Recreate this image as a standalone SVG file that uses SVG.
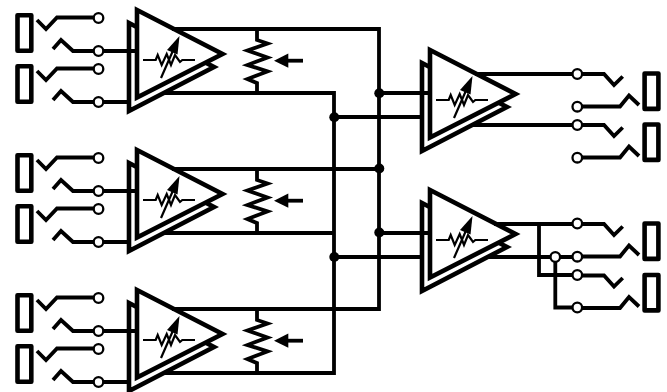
<svg xmlns="http://www.w3.org/2000/svg" width="667" height="392" viewBox="0 0 667 392">
<style>
.l{fill:none;stroke:#000;stroke-width:3.8;stroke-linejoin:miter}
.t{fill:#fff;stroke:#000;stroke-width:4.6;stroke-miterlimit:10}
.j{fill:#fff;stroke:#000;stroke-width:4.6;stroke-linejoin:round}
.z{fill:none;stroke:#000;stroke-width:2.2}
.h{fill:#fff;stroke:#000;stroke-width:2.3}
.d{fill:#000}
</style>
<defs>
<g id="amp">
<path class="t" d="M129 23L214 67L129 111Z"/>
<path class="t" d="M137 10L222.500 54L137 97.500Z"/>
<path class="z" d="M143 60H155.700L157.700 55L161.700 65L166.700 54L171 65L175 55L180 62L182.300 60H195M161 78L175 46"/>
<path class="d" d="M179.500 36L167 50L177.500 54.500Z"/>
</g>
<g id="jackL">
<rect class="j" x="17.500" y="15.300" width="13.800" height="35.400"/>
<path class="l" d="M37 20L46 29L57 17.500H93M53 49L61 40L73 51H94"/>
<circle class="h" cx="98.500" cy="18" r="4.800"/>
<circle class="h" cx="98.500" cy="51" r="4.800"/>
</g>
<g id="pot">
<path class="l" d="M257 29V40L267.500 43.500L247.500 50.500L267.500 57.500L247.500 65L267.500 71.500L247.500 79L257 83V93"/>
<path class="l" d="M303 60.700H284"/>
<path class="d" d="M274 60.700L288.300 53.500V67.700Z"/>
</g>
<g id="jackR">
<rect class="j" x="644.600" y="0" width="13.800" height="35.400"/>
<path class="l" d="M582 0.500H604L614 11.500L622.700 3M582 33H620L629 22L639 31.500"/>
</g>
</defs>
<g id="amp-in-1"><use href="#amp"/><use href="#jackL"/><use href="#jackL" y="51"/></g>
<g id="amp-in-2"><use href="#amp" y="140"/><use href="#jackL" y="140"/><use href="#jackL" y="191"/></g>
<g id="amp-in-3"><use href="#amp" y="280"/><use href="#jackL" y="280"/><use href="#jackL" y="331"/></g>
<g id="pot-1"><use href="#pot"/></g>
<g id="pot-2"><use href="#pot" y="140"/></g>
<g id="pot-3"><use href="#pot" y="280"/></g>
<g id="amp-out-1"><use href="#amp" x="293" y="40"/><use href="#jackR" y="73.500"/><use href="#jackR" y="124.500"/></g>
<g id="amp-out-2"><use href="#amp" x="293" y="180"/><use href="#jackR" y="223.500"/><use href="#jackR" y="275"/></g>
<g id="connectors">
<path class="l" d="M103 51H137M103 102H129M103 191H137M103 242H129M103 331H137M103 382H129"/>
<path class="l" d="M172 29H379V309H172M163 93H334V373H163M172 169H379M163 233H334"/>
<path class="l" d="M379 93H430M334 117H422M379 233H430M334 257H422"/>
<path class="l" d="M475 74H573M471 125H573M494 224H573M487 257H551M539 224V275H573M555.300 262V307.500H573M560 257H573"/>
<circle class="d" cx="379.300" cy="93.300" r="5"/>
<circle class="d" cx="334.300" cy="117.300" r="5"/>
<circle class="d" cx="379.300" cy="168.500" r="5"/>
<circle class="d" cx="379.300" cy="232.500" r="5"/>
<circle class="d" cx="334.300" cy="257" r="5"/>
<g class="h">
<circle cx="577.300" cy="74" r="4.800"/><circle cx="577.300" cy="106.700" r="4.800"/><circle cx="577.300" cy="125" r="4.800"/><circle cx="577.300" cy="157.700" r="4.800"/>
<circle cx="577.300" cy="223.500" r="4.800"/><circle cx="577.300" cy="256.700" r="4.800"/><circle cx="577.300" cy="275" r="4.800"/><circle cx="577.300" cy="307.500" r="4.800"/>
<circle cx="555.300" cy="257" r="4.800"/>
</g>
</g>
</svg>
